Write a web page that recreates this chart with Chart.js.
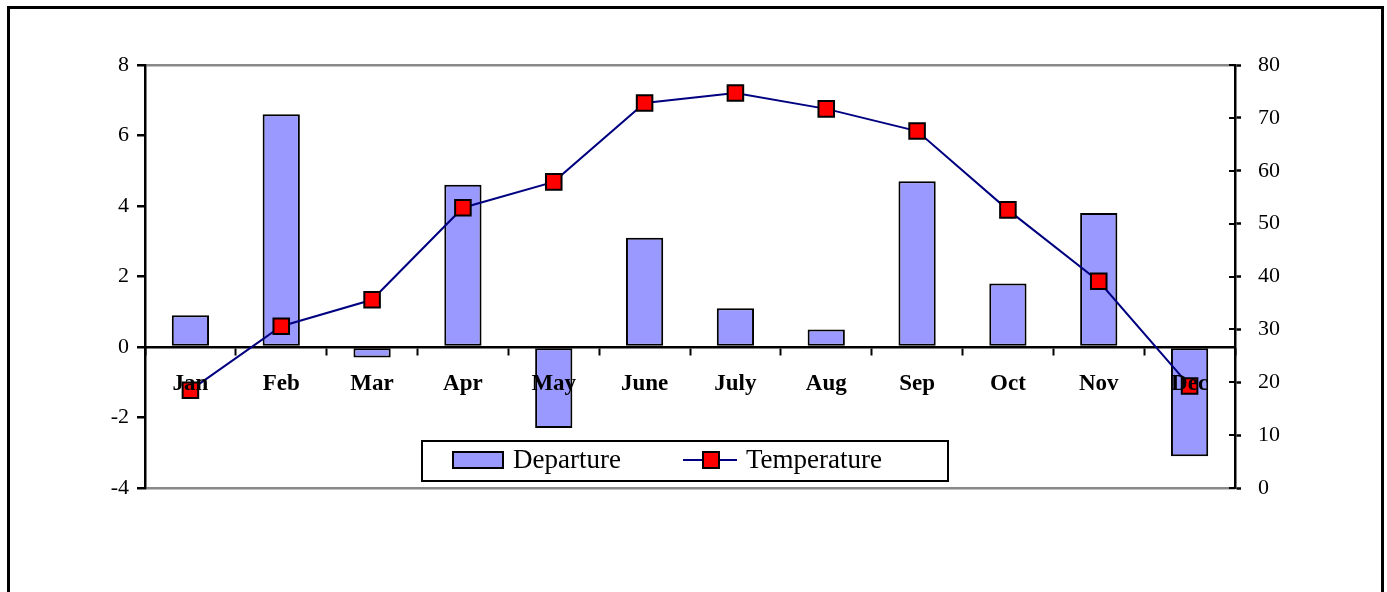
<!DOCTYPE html>
<html>
<head>
<meta charset="utf-8">
<script src="https://cdn.jsdelivr.net/npm/chart.js@4.4.1/dist/chart.umd.min.js"></script>
<style>
  html, body { margin: 0; padding: 0; background: #fff; overflow: hidden; }
</style>
</head>
<body>
<canvas id="chart" width="1387" height="592"></canvas>
<script>
// monthly departure (left axis) and temperature (right axis)
const months = ['Jan', 'Feb', 'Mar', 'Apr', 'May', 'June', 'July', 'Aug', 'Sep', 'Oct', 'Nov', 'Dec'];
const departure = [0.9, 6.6, -0.3, 4.6, -2.3, 3.1, 1.1, 0.5, 4.7, 1.8, 3.8, -3.1];
const temperature = [18.5, 30.6, 35.6, 53.0, 57.9, 72.8, 74.7, 71.7, 67.5, 52.6, 39.1, 19.3];
const leftAxis = { min: -4, max: 8, step: 2 };
const rightAxis = { min: 0, max: 80, step: 10 };

const BAR_FILL = '#9999FF';
const LINE_COLOR = '#000080';
const MARKER_FILL = '#FF0000';
const SERIF = "'Liberation Serif', 'DejaVu Serif', serif";

Chart.defaults.font.family = SERIF;
Chart.defaults.color = '#000';

// outer frame around the whole picture
const framePlugin = {
  id: 'frame',
  beforeDraw(chart) {
    const ctx = chart.ctx;
    ctx.save();
    ctx.fillStyle = '#fff';
    ctx.fillRect(0, 0, chart.width, chart.height);
    ctx.strokeStyle = '#000';
    ctx.lineWidth = 3;
    ctx.strokeRect(8.5, 7.5, 1374, 700);
    ctx.restore();
  }
};

// right axis tick marks also cross into the plot
const innerTicks = {
  id: 'innerTicks',
  afterDatasetsDraw(chart) {
    const s = chart.scales.y1;
    const ctx = chart.ctx;
    ctx.save();
    ctx.strokeStyle = '#000';
    ctx.lineWidth = 2;
    s.ticks.forEach(t => {
      const y = Math.round(s.getPixelForValue(t.value));
      ctx.beginPath();
      ctx.moveTo(s.left - 6, y);
      ctx.lineTo(s.left, y);
      ctx.stroke();
    });
    ctx.restore();
  }
};

// boxed legend sitting inside the plot
const boxLegend = {
  id: 'boxLegend',
  afterDraw(chart) {
    const ctx = chart.ctx;
    const bar = chart.data.datasets[1];
    const line = chart.data.datasets[0];
    ctx.save();
    ctx.fillStyle = '#fff';
    ctx.fillRect(422, 441, 526, 40);
    ctx.strokeStyle = '#000';
    ctx.lineWidth = 2;
    ctx.strokeRect(422, 441, 526, 40);

    ctx.fillStyle = bar.backgroundColor;
    ctx.fillRect(453, 452, 50, 16);
    ctx.lineWidth = 2;
    ctx.strokeRect(453, 452, 50, 16);

    ctx.strokeStyle = line.borderColor;
    ctx.lineWidth = 2;
    ctx.beginPath();
    ctx.moveTo(683, 460);
    ctx.lineTo(737, 460);
    ctx.stroke();
    ctx.fillStyle = line.pointBackgroundColor;
    ctx.fillRect(703, 452, 16, 16);
    ctx.strokeStyle = '#000';
    ctx.lineWidth = 2;
    ctx.strokeRect(703, 452, 16, 16);

    ctx.fillStyle = '#000';
    ctx.font = '27px ' + SERIF;
    ctx.textBaseline = 'middle';
    ctx.textAlign = 'left';
    ctx.fillText(bar.label, 513, 461);
    ctx.fillText(line.label, 746, 461);
    ctx.restore();
  }
};

new Chart(document.getElementById('chart'), {
  data: {
    labels: months,
    datasets: [
      {
        type: 'line',
        label: 'Temperature',
        data: temperature,
        yAxisID: 'y1',
        order: 0,
        borderColor: LINE_COLOR,
        borderWidth: 2,
        tension: 0,
        pointStyle: 'rect',
        pointRadius: 11,
        pointBackgroundColor: MARKER_FILL,
        pointBorderColor: '#000',
        pointBorderWidth: 2
      },
      {
        type: 'bar',
        label: 'Departure',
        data: departure,
        yAxisID: 'y',
        order: 1,
        backgroundColor: BAR_FILL,
        borderColor: '#000',
        borderWidth: 2,
        borderSkipped: false,
        barPercentage: 0.41,
        categoryPercentage: 1
      }
    ]
  },
  options: {
    responsive: false,
    animation: false,
    events: [],
    layout: { padding: { left: 0, right: 0, top: 65, bottom: 104 } },
    plugins: {
      legend: { display: false },
      tooltip: { enabled: false }
    },
    scales: {
      x: {
        position: { y: 0 },
        offset: true,
        border: { display: true, color: '#000', width: 2.5 },
        grid: {
          offset: true,
          drawOnChartArea: false,
          tickLength: 7,
          tickColor: '#000',
          tickWidth: 2
        },
        ticks: {
          z: 1,
          padding: 16,
          font: { size: 23, weight: 'bold' },
          maxRotation: 0,
          autoSkip: false
        }
      },
      y: {
        position: 'left',
        min: leftAxis.min,
        max: leftAxis.max,
        afterFit(s) { s.width = 145; },
        border: { display: true, color: '#000', width: 2.5 },
        grid: {
          drawOnChartArea: true,
          color: c => (c.tick && (c.tick.value === leftAxis.max || c.tick.value === leftAxis.min)) ? '#888888' : 'rgba(0,0,0,0)',
          lineWidth: 2.5,
          tickLength: 8,
          tickColor: '#000',
          tickWidth: 2.5
        },
        ticks: {
          stepSize: leftAxis.step,
          padding: 8,
          font: { size: 22 }
        }
      },
      y1: {
        position: 'right',
        min: rightAxis.min,
        max: rightAxis.max,
        afterFit(s) { s.width = 152; },
        border: { display: true, color: '#000', width: 2.5 },
        grid: {
          drawOnChartArea: false,
          tickLength: 6,
          tickColor: '#000',
          tickWidth: 2.5
        },
        ticks: {
          stepSize: rightAxis.step,
          padding: 17,
          font: { size: 22 }
        }
      }
    }
  },
  plugins: [framePlugin, innerTicks, boxLegend]
});
</script>
</body>
</html>
